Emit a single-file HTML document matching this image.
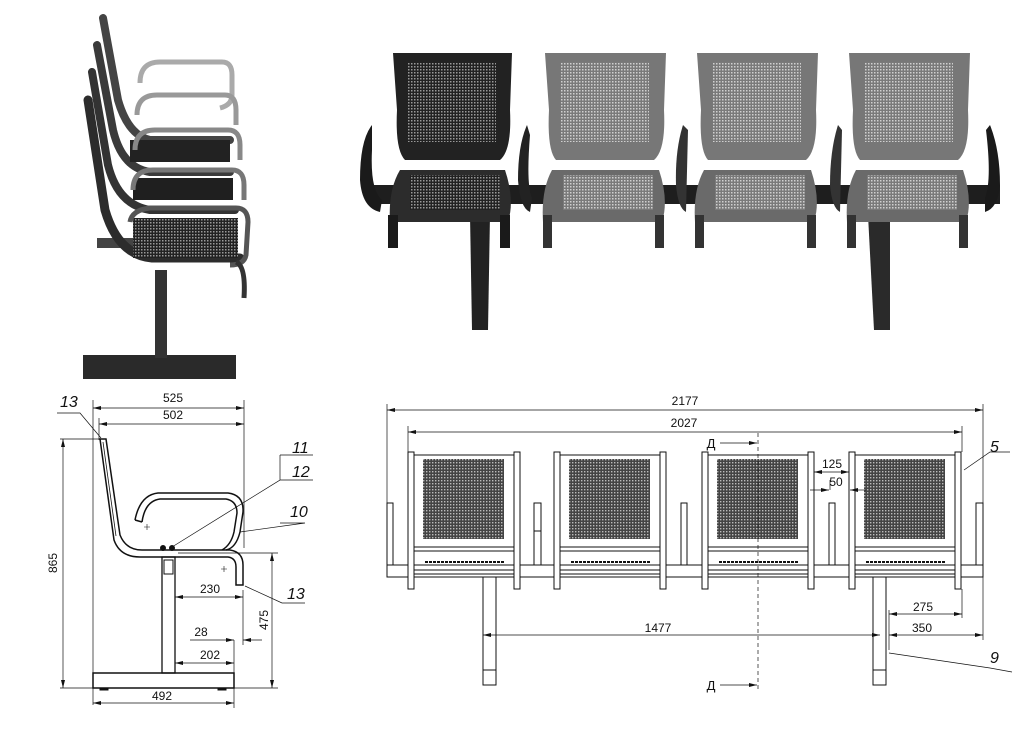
<!DOCTYPE html>
<html><head><meta charset="utf-8"><style>
html,body{margin:0;padding:0;background:#fff;width:1024px;height:729px;overflow:hidden}
svg{display:block}
text{font-family:"Liberation Sans",sans-serif;fill:#111}
</style></head><body>
<svg width="1024" height="729" viewBox="0 0 1024 729" xmlns="http://www.w3.org/2000/svg">
<defs>
<pattern id="perfL" width="3" height="3" patternUnits="userSpaceOnUse"><rect width="3" height="3" fill="#7a7a7a"/><rect x="0" y="0" width="1.5" height="1.5" fill="#d0d0d0"/></pattern>
<pattern id="perfD" width="3" height="3" patternUnits="userSpaceOnUse"><rect width="3" height="3" fill="#222"/><rect x="0" y="0" width="1.5" height="1.5" fill="#999"/></pattern>
<pattern id="drw" width="3" height="3" patternUnits="userSpaceOnUse"><rect width="3" height="3" fill="#444"/><rect width="1.4" height="1.4" fill="#bbb"/></pattern>
<marker id="ar" markerWidth="8" markerHeight="6" refX="8" refY="3" orient="auto-start-reverse" markerUnits="userSpaceOnUse"><path d="M0,1 L8,3 L0,5 Z" fill="#111"/></marker>
</defs>

<!-- ===== Top-left stacked chairs ===== -->
<g>
<rect x="83" y="355" width="153" height="24" fill="#2a2a2a"/>
<rect x="155" y="270" width="12" height="88" fill="#333"/>
<rect x="97" y="238" width="40" height="10" fill="#444"/>
<g fill="none" stroke-linecap="round">
<path d="M103,18 L118,100 Q128,135 150,140 L230,140" stroke="#444" stroke-width="8"/>
<path d="M97,45 L113,130 Q122,168 150,172 L230,172" stroke="#3a3a3a" stroke-width="8"/>
<path d="M92,72 L108,165 Q118,205 150,210 L235,210" stroke="#333" stroke-width="8"/>
<path d="M88,100 L105,210 Q118,255 152,258 L240,258" stroke="#2c2c2c" stroke-width="9"/>
</g>
<rect x="130" y="140" width="100" height="22" fill="#222"/>
<rect x="133" y="178" width="100" height="22" fill="#1f1f1f"/>
<rect x="133" y="218" width="105" height="40" fill="url(#perfD)"/>
<g fill="none" stroke-width="5">
<path d="M140,83 Q140,62 160,62 L222,62 Q232,62 232,75 L232,95 Q232,105 220,108" stroke="#aaa"/>
<path d="M137,115 Q137,95 157,95 L225,95 Q236,95 236,110 L236,125" stroke="#999"/>
<path d="M135,150 Q135,130 155,130 L228,130 Q240,130 240,145 L240,160" stroke="#888"/>
<path d="M133,190 Q133,170 153,170 L232,170 Q244,170 244,185 L244,200" stroke="#777"/>
<path d="M130,222 Q132,210 150,208 L236,208 Q248,208 248,222 L246,255 Q244,265 230,265" stroke="#555"/>
<path d="M236,262 Q246,266 244,298" stroke="#333"/>
</g>
</g>

<!-- ===== Top-right bench photo ===== -->
<g>
<rect x="370" y="185" width="630" height="19" fill="#1e1e1e"/>
<path d="M470,215 L490,215 L488,330 L472,330 Z" fill="#222"/>
<path d="M868,215 L890,215 L890,330 L874,330 Z" fill="#2a2a2a"/>
<path d="M372,125 Q360,140 360,180 Q362,208 380,212 L382,200 Q370,190 372,150 Z" fill="#1a1a1a"/>
<path d="M527,125 Q518,145 518,180 Q520,208 530,212 L532,198 Q526,185 530,135 Z" fill="#222"/>
<path d="M683,125 Q675,150 676,185 Q678,208 686,212 L688,130 Z" fill="#333"/>
<path d="M838,125 Q830,150 830,185 Q832,208 840,212 L842,130 Z" fill="#333"/>
<path d="M990,125 Q1000,150 1000,185 Q998,208 985,212 L985,198 Q992,180 986,130 Z" fill="#1a1a1a"/>
<path d="M393,53 L512,53 L510,110 Q512,150 500,160 L405,160 Q395,150 397,110 Z" fill="#222"/>
<rect x="408" y="62" width="88" height="80" fill="url(#perfD)"/>
<path d="M400,170 L505,170 Q515,200 508,222 L390,222 Q388,190 400,170 Z" fill="#2c2c2c"/>
<rect x="410" y="175" width="90" height="35" fill="url(#perfD)"/>
<rect x="388" y="215" width="10" height="33" fill="#1a1a1a"/>
<rect x="500" y="215" width="10" height="33" fill="#1a1a1a"/>
<g id="gc">
<path d="M545,53 L666,53 L664,110 Q666,150 654,160 L556,160 Q547,150 549,110 Z" fill="#777"/>
<rect x="561" y="62" width="88" height="80" fill="url(#perfL)"/>
<path d="M552,170 L659,170 Q669,200 662,222 L543,222 Q541,190 552,170 Z" fill="#6a6a6a"/>
<rect x="563" y="175" width="90" height="35" fill="url(#perfL)"/>
<rect x="543" y="215" width="9" height="33" fill="#333"/>
<rect x="655" y="215" width="9" height="33" fill="#333"/>
</g>
<use href="#gc" x="152"/>
<use href="#gc" x="304"/>
</g>

<!-- ===== Bottom-left side drawing ===== -->
<g stroke="#111" fill="none" stroke-width="1">
<path d="M100,439 L106,439 L120,535 Q126,550 142,550 L230,550 Q243,552 243,565 L243,585 L236,585 L236,567 Q236,558 228,557 L140,557 Q120,557 114,540 Z" stroke-width="1.5"/>
<path d="M103,442 L116,536" stroke-width="0.8"/>
<path d="M135,520 Q140,495 158,493 L228,493 Q244,495 243,512 L240,532 Q236,548 226,550" stroke-width="1.5"/>
<path d="M142,522 Q145,501 160,499 L226,499 Q237,501 237,513 L234,532 Q231,545 222,550" stroke-width="1.5"/>
<path d="M135,520 L142,522" stroke-width="1.5"/>
<circle cx="163" cy="548" r="2.5" fill="#111"/><circle cx="172" cy="548" r="2.5" fill="#111"/>
<rect x="162" y="557" width="13" height="116" stroke-width="1.3"/>
<rect x="164" y="560" width="9" height="14"/>
<rect x="93" y="673" width="141" height="15" stroke-width="1.5"/>
<rect x="100" y="688" width="8" height="2" fill="#111"/><rect x="218" y="688" width="8" height="2" fill="#111"/>
<path d="M144,527 h6 M147,524 v6 M221,569 h6 M224,566 v6" stroke-width="0.6"/>
<g stroke-width="0.7">
<path d="M93,400 V705 M244,400 V548 M99,418 V440 M234,640 V708 M243,590 V645 M175,590 V670 M178,553 H278 M60,439 H100 M60,688 H278"/>
<path d="M93,408 H244" marker-start="url(#ar)" marker-end="url(#ar)"/>
<path d="M99,424 H244" marker-start="url(#ar)" marker-end="url(#ar)"/>
<path d="M63,439 V688" marker-start="url(#ar)" marker-end="url(#ar)"/>
<path d="M272,553 V688" marker-start="url(#ar)" marker-end="url(#ar)"/>
<path d="M175,597 H243" marker-start="url(#ar)" marker-end="url(#ar)"/>
<path d="M190,640 H234" marker-end="url(#ar)"/>
<path d="M262,640 H243" marker-end="url(#ar)"/>
<path d="M175,663 H234" marker-start="url(#ar)" marker-end="url(#ar)"/>
<path d="M93,703 H234" marker-start="url(#ar)" marker-end="url(#ar)"/>
<path d="M57,413 H80 L101,438" />
<path d="M280,455 H313 M280,480 H313 M280,455 V480 L172,547"/>
<path d="M280,523 H305 L240,532"/>
<path d="M305,603 L282,603 L245,586"/>
</g>
</g>
<g font-size="12">
<text x="173" y="402" text-anchor="middle">525</text>
<text x="173" y="419" text-anchor="middle">502</text>
<text x="210" y="593" text-anchor="middle">230</text>
<text x="201" y="636" text-anchor="middle">28</text>
<text x="210" y="659" text-anchor="middle">202</text>
<text x="162" y="700" text-anchor="middle">492</text>
<text transform="translate(57,563) rotate(-90)" text-anchor="middle">865</text>
<text transform="translate(268,620) rotate(-90)" text-anchor="middle">475</text>
</g>
<g font-size="16" font-style="italic">
<text x="60" y="407">13</text>
<text x="292" y="453">11</text>
<text x="292" y="477">12</text>
<text x="290" y="517">10</text>
<text x="287" y="599">13</text>
</g>

<!-- ===== Bottom-right front drawing ===== -->
<g stroke="#111" fill="none" stroke-width="1">
<rect x="387" y="565" width="596" height="12" fill="#fff"/>
<rect x="483" y="577" width="13" height="108" fill="#fff"/><path d="M483,670 H496"/>
<rect x="873" y="577" width="13" height="108" fill="#fff"/><path d="M873,670 H886"/>
<rect x="387" y="503" width="6" height="62" fill="#fff"/>
<rect x="534" y="531" width="7" height="34" fill="#fff"/><rect x="534" y="503" width="7" height="28" fill="#fff"/>
<rect x="681" y="503" width="6" height="62" fill="#fff"/>
<rect x="829" y="503" width="6" height="62" fill="#fff"/>
<rect x="976" y="503" width="7" height="62" fill="#fff"/>
<g id="fc">
<rect x="408" y="452" width="6" height="137" fill="#fff"/>
<rect x="514" y="452" width="6" height="137" fill="#fff"/>
<path d="M414,455 H514 M414,547 H514 M414,551 H514 M414,570 H514 M414,574 H514"/>
<rect x="423" y="459" width="81" height="80" fill="url(#drw)" stroke="none"/>
<path d="M425,562 H504" stroke-width="2" stroke-dasharray="3,1"/>
</g>
<use href="#fc" x="146"/>
<use href="#fc" x="294"/>
<use href="#fc" x="441"/>
<g stroke-width="0.7">
<path d="M387,404 V503 M983,404 V565 M408,426 V452 M962,426 V452 M889,610 V650 M983,577 V640 M962,589 V618 M483,630 V640"/>
<path d="M387,410 H983" marker-start="url(#ar)" marker-end="url(#ar)"/>
<path d="M408,432 H962" marker-start="url(#ar)" marker-end="url(#ar)"/>
<path d="M814,472 H849" marker-start="url(#ar)" marker-end="url(#ar)"/>
<path d="M830,490 V480" />
<path d="M810,490 H829" marker-end="url(#ar)"/>
<path d="M866,490 H850" marker-end="url(#ar)"/>
<path d="M889,614 H962" marker-start="url(#ar)" marker-end="url(#ar)"/>
<path d="M889,635 H983" marker-start="url(#ar)" marker-end="url(#ar)"/>
<path d="M483,635 H880" marker-start="url(#ar)" marker-end="url(#ar)"/>
<path d="M758,433 V690" stroke-dasharray="4,3"/>
<path d="M720,443 H757" marker-end="url(#ar)"/>
<path d="M720,685 H757" marker-end="url(#ar)"/>
<path d="M1010,452 L990,452 L964,470" />
<path d="M1012,672 L990,668 L889,653" />
</g>
</g>
<g font-size="12">
<text x="685" y="405" text-anchor="middle">2177</text>
<text x="684" y="427" text-anchor="middle">2027</text>
<text x="832" y="468" text-anchor="middle">125</text>
<text x="836" y="486" text-anchor="middle">50</text>
<text x="923" y="611" text-anchor="middle">275</text>
<text x="922" y="632" text-anchor="middle">350</text>
<text x="658" y="632" text-anchor="middle">1477</text>
<text x="711" y="448" text-anchor="middle" font-size="13">Д</text>
<text x="711" y="690" text-anchor="middle" font-size="13">Д</text>
</g>
<g font-size="16" font-style="italic">
<text x="990" y="452">5</text>
<text x="990" y="663">9</text>
</g>
</svg>
</body></html>
